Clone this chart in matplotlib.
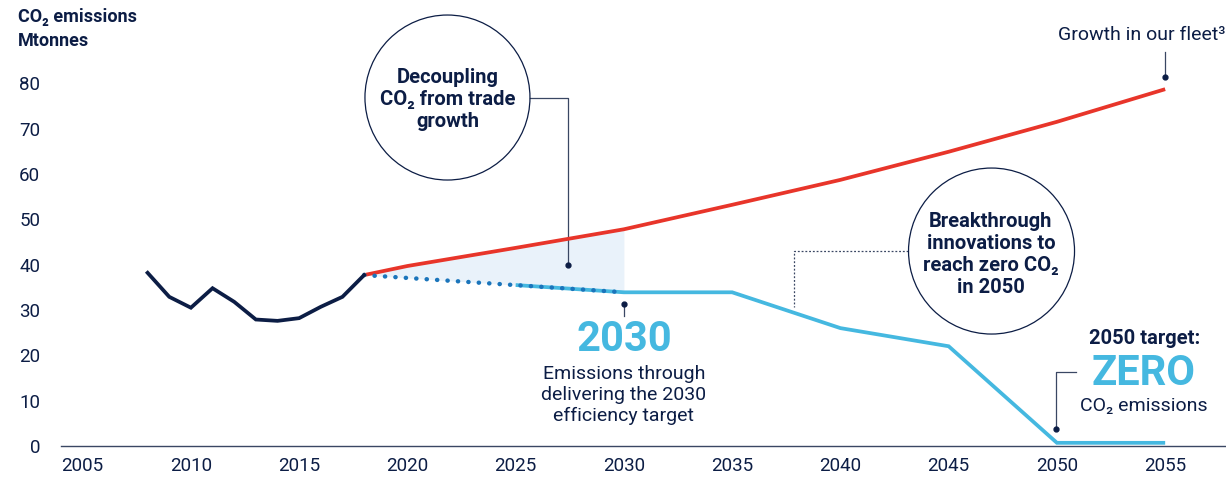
import matplotlib
matplotlib.use("Agg")
import matplotlib.pyplot as plt
from matplotlib.patches import Ellipse
import numpy as np

plt.rcParams['font.family'] = ['Roboto', 'DejaVu Sans']

NAVY = '#0c1d45'
RED = '#e8352a'
LIGHT_BLUE = '#45b8e0'
DOT_BLUE = '#1b75bb'
FILL = '#e9f2fa'
LINE_GREY = '#3a4763'

# historical emissions
hist_years = [2008, 2009, 2010, 2011, 2012, 2013, 2014, 2015, 2016, 2017, 2018]
hist_values = [38.2, 32.9, 30.5, 34.8, 31.8, 27.9, 27.6, 28.2, 30.7, 32.9, 37.7]

# growth in our fleet
fleet_years = [2018, 2020, 2025, 2030, 2035, 2040, 2045, 2050, 2055]
fleet_values = [37.7, 39.7, 43.7, 47.8, 53.2, 58.7, 64.9, 71.5, 78.7]

# efficiency target path to 2030 (dotted)
eff_years = [2018, 2030]
eff_values = [37.7, 33.9]

# path to zero
zero_years = [2025, 2030, 2035, 2040, 2045, 2050, 2055]
zero_values = [35.5, 33.9, 33.9, 26.0, 22.0, 0.7, 0.7]

x_ticks = [2005, 2010, 2015, 2020, 2025, 2030, 2035, 2040, 2045, 2050, 2055]
y_ticks = [0, 10, 20, 30, 40, 50, 60, 70, 80]

fig = plt.figure(figsize=(12.26, 4.79), dpi=100)
ax = fig.add_axes([61 / 1226, 33 / 479, 1165 / 1226, 446 / 479])
ax.set_xlim(2004.0, 2057.81)
ax.set_ylim(0, 98.37)

for s in ['top', 'right', 'left']:
    ax.spines[s].set_visible(False)
ax.spines['bottom'].set_color(LINE_GREY)
ax.spines['bottom'].set_linewidth(1.0)
ax.set_xticks(x_ticks)
ax.set_yticks(y_ticks)
ax.tick_params(axis='both', length=0, labelsize=13.5, colors=NAVY)
ax.tick_params(axis='x', pad=8)
ax.tick_params(axis='y', pad=15)

# shaded decoupling area
shade_years = [y for y in fleet_years if y <= 2030]
shade_top = [v for y, v in zip(fleet_years, fleet_values) if y <= 2030]
shade_bottom = np.interp(shade_years, eff_years, eff_values)
ax.fill_between(shade_years, shade_bottom, shade_top, color=FILL, lw=0, zorder=1)

ax.plot(fleet_years, fleet_values, color=RED, lw=2.7, zorder=3, solid_capstyle='butt')
ax.plot(zero_years, zero_values, color=LIGHT_BLUE, lw=2.7, zorder=2, clip_on=False,
        solid_joinstyle='miter', solid_capstyle='butt')
ax.plot(eff_years, eff_values, color=DOT_BLUE, lw=3.2, linestyle=(0, (0.05, 2.3)),
        dash_capstyle='round', zorder=4)
ax.plot(hist_years, hist_values, color=NAVY, lw=2.7, zorder=5, solid_joinstyle='miter')

# circle 1: decoupling
ax.add_patch(Ellipse((2021.85, 76.86), 165 / 21.65, 165 / 4.534, fill=False,
                     ec=NAVY, lw=0.9, zorder=6))
ax.text(2021.85, 76.5, 'Decoupling\nCO\u2082 from trade\ngrowth', ha='center', va='center',
        fontsize=14.5, fontweight='bold', color=NAVY, linespacing=1.2)
ax.plot([2025.67, 2027.4, 2027.4], [76.8, 76.8, 39.85], color=LINE_GREY, lw=0.9)
ax.plot([2027.4], [39.85], 'o', color=NAVY, ms=3.5)

# circle 2: breakthrough
ax.add_patch(Ellipse((2046.98, 43.0), 166 / 21.65, 166 / 4.534, fill=False,
                     ec=NAVY, lw=0.9, zorder=6))
ax.text(2046.95, 42.2, 'Breakthrough\ninnovations to\nreach zero CO\u2082\nin 2050',
        ha='center', va='center', fontsize=14.5, fontweight='bold', color=NAVY,
        linespacing=1.2)
ax.plot([2043.12, 2037.85, 2037.85], [43.0, 43.0, 30.7], color=LINE_GREY, lw=0.9,
        linestyle=(0, (1.5, 1.5)))

# 2030 annotation
ax.plot([2030.0, 2030.0], [31.3, 28.6], color=LINE_GREY, lw=0.9)
ax.plot([2030.0], [31.3], 'o', color=NAVY, ms=3.5)
ax.text(2030.0, 23.4, '2030', ha='center', va='center', fontsize=30, fontweight='bold',
        color=LIGHT_BLUE)
ax.text(2030.0, 11.25, 'Emissions through\ndelivering the 2030\nefficiency target',
        ha='center', va='center', fontsize=14, color=NAVY, linespacing=1.22)

# growth in fleet
ax.text(2057.77, 90.6, 'Growth in our fleet\u00b3', ha='right', va='center', fontsize=14,
        color=NAVY)
ax.plot([2055.0, 2055.0], [86.9, 81.4], color=LINE_GREY, lw=0.9)
ax.plot([2055.0], [81.4], 'o', color=NAVY, ms=3.5)

# 2050 target
ax.text(2054.03, 23.8, '2050 target:', ha='center', va='center', fontsize=14.5,
        fontweight='bold', color=NAVY)
ax.text(2054.0, 16.0, 'ZERO', ha='center', va='center', fontsize=30, fontweight='bold',
        color=LIGHT_BLUE)
ax.text(2054.0, 8.8, 'CO\u2082 emissions', ha='center', va='center', fontsize=14,
        color=NAVY)
ax.plot([2050.88, 2049.96, 2049.96], [16.3, 16.3, 3.75], color=LINE_GREY, lw=0.9)
ax.plot([2049.96], [3.75], 'o', color=NAVY, ms=3.5)

fig.text(18 / 1226, 1 - 8 / 479, 'CO\u2082 emissions\nMtonnes', ha='left', va='top',
         fontsize=13, fontweight='bold', color=NAVY, linespacing=1.45)

fig.savefig('out.png', dpi=100)
